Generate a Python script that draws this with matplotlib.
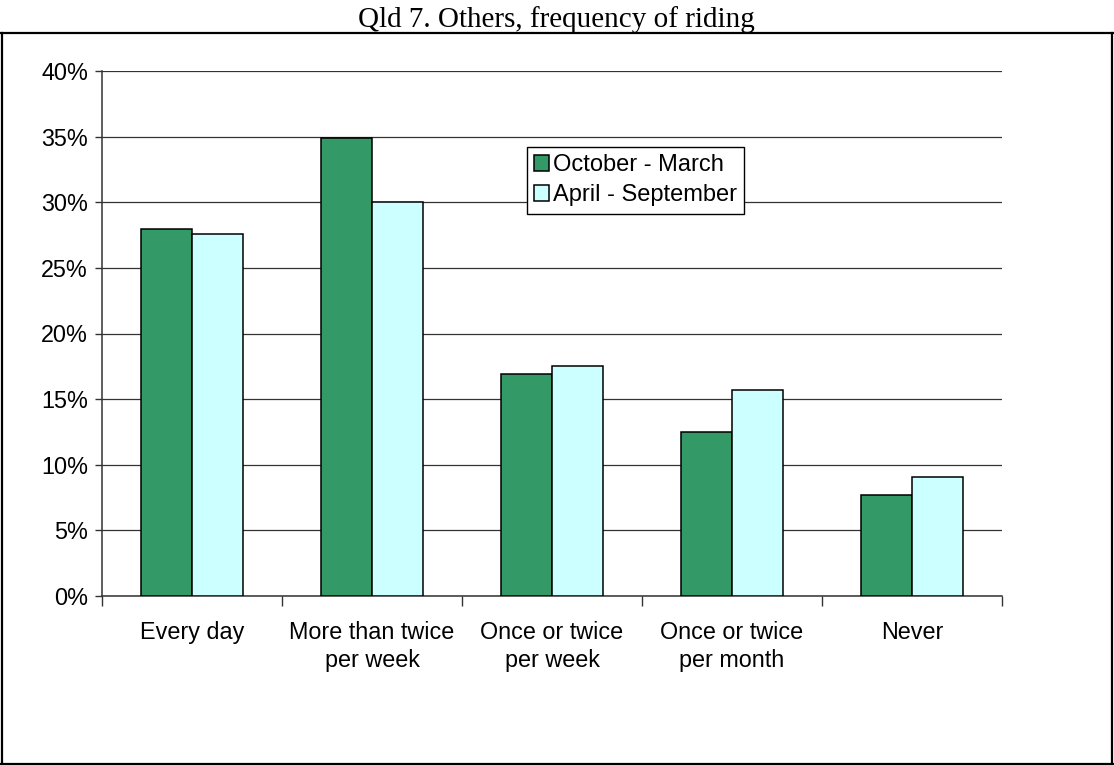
import numpy as np
import matplotlib
matplotlib.use('Agg')
import matplotlib.pyplot as plt
from matplotlib.lines import Line2D
from matplotlib.ticker import FixedLocator, PercentFormatter

# dados
categorias = ['Every day', 'More than twice\nper week', 'Once or twice\nper week',
              'Once or twice\nper month', 'Never']
outubro_marco = [28.0, 34.9, 16.9, 12.5, 7.7]
abril_setembro = [27.6, 30.0, 17.5, 15.7, 9.1]
series = ['October - March', 'April - September']
titulo = 'Qld 7. Others, frequency of riding'

plt.rcParams['font.family'] = ['Liberation Sans', 'DejaVu Sans']

fig = plt.figure(figsize=(11.14, 7.65), dpi=100)
ax = fig.add_axes([102 / 1114, 1 - 596 / 765, 900 / 1114, 525 / 765])

x = np.arange(len(categorias))
w = 1 / 3.5
ax.bar(x - w / 2, outubro_marco, w, color='#339966', edgecolor='black', linewidth=1.1,
       label=series[0], zorder=3)
ax.bar(x + w / 2, abril_setembro, w, color='#CCFFFF', edgecolor='black', linewidth=1.1,
       label=series[1], zorder=3)

ax.set_xlim(-0.5, len(categorias) - 0.5)
ax.set_ylim(0, 40)
ax.set_yticks(np.arange(0, 41, 5))
ax.yaxis.set_major_formatter(PercentFormatter(decimals=0))
ax.grid(axis='y', color='#333333', linewidth=0.9, zorder=0)

ax.set_xticks(x)
ax.set_xticklabels(categorias, fontsize=16.8, linespacing=1.3)
ax.xaxis.set_minor_locator(FixedLocator(np.arange(-0.5, len(categorias), 1)))
ax.tick_params(axis='x', which='major', length=0, pad=18)
ax.tick_params(axis='x', which='minor', length=7, width=1, color='#333333')
ax.tick_params(axis='y', labelsize=16.8, length=5, width=1, pad=5, color='#333333')

for s in ['top', 'right']:
    ax.spines[s].set_visible(False)
for s in ['left', 'bottom']:
    ax.spines[s].set_color('#333333')
    ax.spines[s].set_linewidth(1.1)

leg = ax.legend(loc='upper left', bbox_to_anchor=(0.472, 0.855), fontsize=17,
                frameon=True, fancybox=False, framealpha=1, edgecolor='black',
                handlelength=0.65, handleheight=0.65, handletextpad=0.15,
                borderpad=0.3, labelspacing=0.35, borderaxespad=0)
leg.get_frame().set_linewidth(1.0)

# moldura e título
fig.text(556 / 1114, 1 - 27 / 765, titulo, ha='center', va='baseline',
         fontsize=21, family='Liberation Serif')
moldura = dict(color='black', linewidth=1.6, transform=fig.transFigure)
fig.add_artist(Line2D([0, 1], [1 - 33 / 765] * 2, **moldura))
fig.add_artist(Line2D([2 / 1114] * 2, [0, 1 - 33 / 765], **moldura))
fig.add_artist(Line2D([1112 / 1114] * 2, [0, 1 - 33 / 765], **moldura))
fig.add_artist(Line2D([0, 1], [1 / 765] * 2, **moldura))

fig.savefig('out.png', dpi=100)
